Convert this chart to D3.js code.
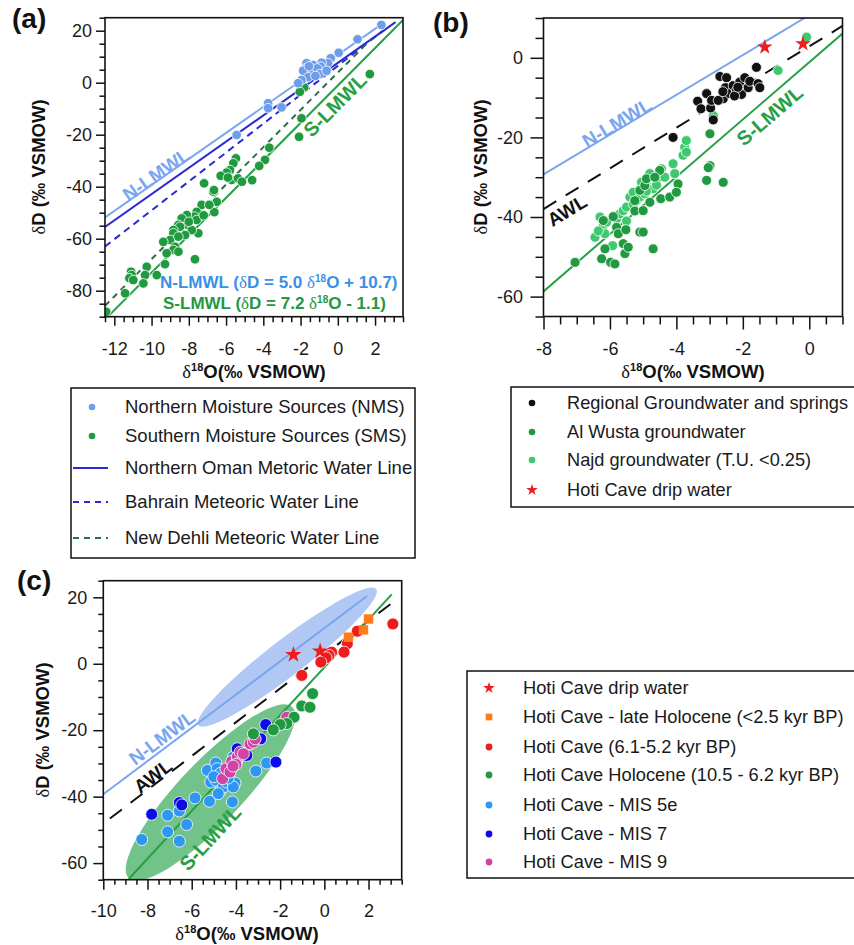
<!DOCTYPE html>
<html>
<head>
<meta charset="utf-8">
<script src="https://cdn.jsdelivr.net/npm/d3@7"></script>
<style>
  body { margin: 0; background: #fff; }
  svg { display: block; font-family: "Liberation Sans", Arial, sans-serif; }
</style>
</head>
<body>
<svg id="fig" width="854" height="945"></svg>
<script>
"use strict";
// ---- panel (a): precipitation ----
const NMS = [[2.34,22.2],[1.06,16.7],[0.05,11.5],[-0.38,9.4],[-0.52,7.5],[-0.87,7.7],[-0.91,6.2],
  [-1.32,6.8],[-1.68,7.5],[-1.73,5.5],[-1.38,4.2],[-1.11,5.5],[-0.97,3.3],[-1.86,4.6],[-1.59,2.1],
  [-1.95,1.0],[-2.13,-0.2],[-3.02,-9.5],[-3.74,-7.9],[-3.74,-9.8],[-5.43,-20.1],[-1.2,2.6],
  [-0.6,4.6],[-1.55,6.3]];
const SMS = [[1.72,3.3],[-1.81,-1.8],[-2.04,-3.5],[-1.95,-13.7],[-2.08,-20.8],[-3.68,-25],[-3.91,-29.7],
  [-4.22,-32],[-5.47,-29.1],[-5.61,-31],[-5.79,-33.6],[-5.97,-34.6],[-6.29,-35.8],[-5.7,-37.4],
  [-5.36,-36.8],[-5.15,-38.1],[-6.69,-41.9],[-6.5,-45.8],[-7.31,-47],[-6.63,-49.8],[-7.58,-49.7],
  [-7.7,-51.5],[-8.11,-50.9],[-8.38,-52.2],[-8.56,-54.7],[-8.06,-54.7],[-7.58,-52.8],[-7.49,-57.9],
  [-7.84,-56.7],[-8.2,-58.6],[-8.47,-55.4],[-8.83,-56.7],[-8.83,-57.9],[-9.0,-60.5],[-8.74,-63.1],
  [-8.56,-59.2],[-9.37,-61.2],[-8.83,-64.3],[-8.56,-65],[-9.19,-65.6],[-7.67,-67.9],[-9.28,-69.8],
  [-10.26,-70.8],[-10.35,-74],[-9.72,-74],[-11.1,-72.7],[-11.07,-74],[-11.19,-75.2],[-10.98,-75.9],
  [-10.44,-77.2],[-11.42,-81],[-12.44,-88.1],[-7.18,-38.7],[-6.65,-41.3],[-5.9,-36.5],[-4.6,-37.5],
  [-8.0,-53.5],[-7.2,-51],[-6.9,-47]];
const A_N_LMWL = [[-12.5,-51.8],[2.5,23.2]];
const A_OMAN = [[-12.5,-55.5],[3.1,23.3]];
const A_BAHRAIN = [[-12.5,-63],[2.7,21.5]];
const A_DELHI = [[-12.5,-85.8],[1.8,16.8]];
const A_S_LMWL = [[-12.35,-90],[3.5,24.1]];
const A_X_TICKS = [-12,-10,-8,-6,-4,-2,0,2];
const A_Y_TICKS = [20,0,-20,-40,-60,-80];
const A_LEGEND = ["Northern Moisture Sources (NMS)", "Southern Moisture Sources (SMS)",
  "Northern Oman Metoric Water Line", "Bahrain Meteoric Water Line", "New Dehli Meteoric Water Line"];

// ---- panel (b): groundwater ----
const REGIONAL_GW = [[-4.1,-20],[-3.36,-10.9],[-3.26,-12.8],[-3.09,-9.0],[-2.89,-15.6],[-2.97,-12.6],
  [-2.94,-10.7],[-2.69,-4.7],[-2.49,-5.0],[-2.59,-10.3],[-2.52,-7.5],[-2.39,-9.0],[-2.29,-7.0],
  [-2.19,-8.2],[-2.09,-6.1],[-2.04,-9.2],[-1.94,-5.0],[-1.84,-7.5],[-1.79,-5.9],[-1.59,-2.4],
  [-1.54,-6.5],[-1.49,-7.5],[-2.25,-9.6],[-2.74,-10.7],[-2.6,-8.5],[-2.15,-7.4]];
const AL_WUSTA = [[-7.05,-51.4],[-6.25,-50.5],[-5.98,-51.4],[-5.85,-51.8],[-6.2,-40.9],[-6.15,-48],
  [-5.9,-39.9],[-5.8,-42.6],[-5.75,-44.2],[-5.6,-46.7],[-5.55,-49.2],[-5.52,-43.2],[-5.45,-47.6],
  [-5.1,-43.8],[-5.0,-43.8],[-4.7,-48],[-4.8,-36.3],[-4.5,-28.3],[-4.47,-35.4],[-4.2,-35],
  [-3.95,-31.7],[-4.0,-33.8],[-5.25,-35.9],[-5.1,-33.3],[-4.95,-32.1],[-4.9,-30.4],[-5.25,-38.5],
  [-5.0,-38.4],[-3.09,-30.8],[-2.99,-27.1],[-3.04,-27.6],[-2.99,-19.1],[-2.59,-31.3],[-4.65,-30]];
const NAJD = [[-6.45,-45.1],[-6.3,-40],[-6.22,-42.6],[-6.1,-41.3],[-5.92,-47.2],[-5.8,-40.5],
  [-5.7,-39.2],[-5.6,-38.4],[-5.5,-37.5],[-5.4,-35],[-5.3,-33.8],[-5.2,-35.9],[-5.1,-35],
  [-5.05,-31.3],[-4.95,-34.2],[-4.85,-32.5],[-4.8,-29.1],[-4.7,-32.9],[-4.55,-30],[-4.45,-27.9],
  [-4.35,-30],[-4.1,-26.6],[-4.05,-29.1],[-3.8,-24.5],[-3.75,-22.5],[-3.7,-20.8],[-3.7,-23.7],
  [-2.89,-14.5],[-0.94,-3.2],[-0.08,5.2],[-6.15,-44.2],[-4.6,-32],[-5.5,-41],[-6.35,-43.5],
  [-5.3,-36.8],[-4.9,-33.5]];
const B_DRIP = [[-1.34,2.7],[-0.19,3.5]];
const B_N_LMWL = [[-8,-29.3],[-0.14,10]];
const B_AWL = [[-8,-38],[1,8]];
const B_S_LMWL = [[-8,-58.7],[1,6.1]];
const B_X_TICKS = [-8,-6,-4,-2,0];
const B_Y_TICKS = [0,-20,-40,-60];
const B_LEGEND = ["Regional Groundwater and springs", "Al Wusta groundwater",
  "Najd groundwater (T.U. <0.25)", "Hoti Cave drip water"];

// ---- panel (c): speleothem fluid inclusions ----
const C_DRIP = [[-1.4,2.7],[-0.19,3.8]];
const LATE_HOLO = [[2.0,13.5],[1.77,10.2],[1.09,8.0]];
const MID_HOLO = [[3.1,12.0],[1.49,9.8],[1.04,6.0],[0.89,3.5],[0.33,3.5],[0.21,2.5],[0.08,1.8],
  [-0.16,0.5],[-1.02,-3.5]];
const EARLY_HOLO = [[-0.53,-9.0],[-1.02,-12.7],[-0.65,-13.1],[-1.37,-16.1],[-1.7,-18.0],[-2.0,-18.3],
  [-2.31,-19.9],[-3.21,-21.1]];
const MIS5E = [[-8.26,-52.9],[-7.09,-45.6],[-7.09,-50.6],[-6.56,-44.3],[-6.56,-53.4],[-6.23,-48.4],
  [-5.85,-40.4],[-5.2,-41.4],[-5.29,-32.1],[-4.91,-29.9],[-5.14,-35.6],[-4.9,-35.1],[-4.69,-38.1],
  [-4.57,-37.1],[-4.42,-35.6],[-4.16,-41.6],[-4.04,-35.9],[-4.12,-37.1],[-4.12,-28.1],[-4.27,-32.1],
  [-3.95,-29],[-3.81,-27.1],[-3.6,-27],[-3.1,-32.3],[-2.61,-29.9],[-4.85,-31.6],[-4.7,-33],
  [-5.0,-34],[-4.35,-34.4],[-4.8,-39.1]];
const MIS7 = [[-7.81,-45.3],[-6.56,-41.8],[-6.45,-42.5],[-3.94,-25.6],[-2.65,-18.3],[-2.88,-22.6],
  [-2.19,-29.6],[-3.51,-27.6]];
const MIS9 = [[-4.6,-34.6],[-4.45,-31.6],[-4.19,-29.4],[-4.0,-30],[-3.94,-28.1],[-3.81,-26.6],
  [-3.66,-27.1],[-4.0,-30.3],[-4.27,-32.6],[-3.36,-24.1],[-3.21,-23.6],[-3.13,-22.6],[-1.7,-16.1],
  [-4.13,-30.8]];
const C_N_LMWL = [[-10,-39.3],[1.92,20.3]];
const C_AWL = [[-9.7,-46.6],[3.1,18.5]];
const C_S_LMWL = [[-8.85,-64.8],[3.05,20.9]];
const C_N_FIELD = [[-5.7,-18.5],[2.35,22.5]];   // ellipse tips
const C_S_FIELD = [[-8.85,-64.5],[-1.45,-13]];
const C_X_TICKS = [-10,-8,-6,-4,-2,0,2];
const C_Y_TICKS = [20,0,-20,-40,-60];
const C_LEGEND = ["Hoti Cave drip water", "Hoti Cave - late Holocene (<2.5 kyr BP)",
  "Hoti Cave (6.1-5.2 kyr BP)", "Hoti Cave Holocene (10.5 - 6.2 kyr BP)",
  "Hoti Cave - MIS 5e", "Hoti Cave - MIS 7", "Hoti Cave - MIS 9"];

(function() {
  const SERIF = "'Liberation Serif', 'DejaVu Serif', serif";
  const COL = {
    nms: "#6d9eeb", sms: "#1f9a3f", oman: "#2a2ad2", delhi: "#2f6f46", nl: "#7aa5f0", sl: "#25a044",
    eqN: "#3b8fe6", eqS: "#23983f", reg: "#111", wusta: "#1f9a40", najd: "#3ec96e", star: "#ee1c1c",
    late: "#ff7b1c", mid: "#ee1c1c", holo: "#1f9a40", mis5: "#2f96f2", mis7: "#0c0ce6", mis9: "#d044a6"
  };
  const svg = d3.select("#fig");

  function makePanel(o) {
    const x = d3.scaleLinear().domain(o.xDomain).range([o.left, o.left + o.w]);
    const y = d3.scaleLinear().domain(o.yDomain).range([o.top + o.h, o.top]);
    const g = svg.append("g");
    svg.append("clipPath").attr("id", "clip-" + o.id).append("rect")
      .attr("x", o.left).attr("y", o.top).attr("width", o.w).attr("height", o.h);
    const xMinor = d3.range(o.xDomain[0], o.xDomain[1] + 0.01, 0.5).filter(v => !o.xTicks.includes(v));
    const yMinor = d3.range(Math.ceil(o.yDomain[0] / 5) * 5, o.yDomain[1] + 0.01, 5).filter(v => !o.yTicks.includes(v));
    const bottom = o.top + o.h;
    g.append("g").attr("transform", `translate(0,${bottom})`)
      .call(d3.axisBottom(x).tickValues(xMinor).tickSize(o.minor).tickFormat(""));
    g.append("g").attr("transform", `translate(0,${bottom})`)
      .call(d3.axisBottom(x).tickValues(o.xTicks).tickSize(o.major).tickPadding(o.xPad).tickFormat(d => String(d)));
    g.append("g").attr("transform", `translate(${o.left},0)`)
      .call(d3.axisLeft(y).tickValues(yMinor).tickSize(o.minor).tickFormat(""));
    g.append("g").attr("transform", `translate(${o.left},0)`)
      .call(d3.axisLeft(y).tickValues(o.yTicks).tickSize(o.major).tickPadding(o.yPad).tickFormat(d => String(d)));
    g.selectAll(".domain").remove();
    g.selectAll(".tick line").attr("stroke", "#111").attr("stroke-width", 1.5);
    g.selectAll(".tick text").attr("font-size", 18).attr("font-family", null).attr("fill", "#1a1a1a");
    const plot = g.append("g").attr("clip-path", `url(#clip-${o.id})`);
    const labels = g.append("g");
    g.append("rect").attr("x", o.left).attr("y", o.top).attr("width", o.w).attr("height", o.h)
      .attr("fill", "none").attr("stroke", "#111").attr("stroke-width", 1.6);
    return { x, y, plot, labels };
  }

  function line(p, pts, color, dash, width) {
    p.plot.append("path").datum(pts)
      .attr("d", d3.line().x(d => p.x(d[0])).y(d => p.y(d[1])))
      .attr("fill", "none").attr("stroke", color).attr("stroke-width", width || 2)
      .attr("stroke-dasharray", dash || null);
  }

  function dots(p, data, color, r) {
    p.plot.append("g").selectAll("circle").data(data).enter().append("circle")
      .attr("cx", d => p.x(d[0])).attr("cy", d => p.y(d[1])).attr("r", r)
      .attr("fill", color).attr("stroke", "#fff").attr("stroke-width", 0.8);
  }

  function symbols(p, data, type, size, color) {
    p.plot.append("g").selectAll("path").data(data).enter().append("path")
      .attr("transform", d => `translate(${p.x(d[0])},${p.y(d[1])})`)
      .attr("d", d3.symbol().type(type).size(size)).attr("fill", color);
  }

  function lineLabel(p, ln, at, text, color, weight, size) {
    const [a, b] = ln;
    const ang = Math.atan2(p.y(b[1]) - p.y(a[1]), p.x(b[0]) - p.x(a[0])) * 180 / Math.PI;
    p.labels.append("text")
      .attr("transform", `translate(${p.x(at[0])},${p.y(at[1])}) rotate(${ang})`)
      .attr("text-anchor", "middle").attr("dy", "0.35em")
      .attr("font-size", size).attr("font-weight", weight).attr("fill", color).text(text);
  }

  function ellipse(p, tips, ry, color, opacity) {
    const x1 = p.x(tips[0][0]), y1 = p.y(tips[0][1]), x2 = p.x(tips[1][0]), y2 = p.y(tips[1][1]);
    const ang = Math.atan2(y2 - y1, x2 - x1) * 180 / Math.PI;
    p.plot.append("ellipse")
      .attr("transform", `translate(${(x1 + x2) / 2},${(y1 + y2) / 2}) rotate(${ang})`)
      .attr("rx", Math.hypot(x2 - x1, y2 - y1) / 2).attr("ry", ry)
      .attr("fill", color).attr("fill-opacity", opacity);
  }

  function xTitle(cx, base) {
    const t = svg.append("text").attr("x", cx).attr("y", base).attr("text-anchor", "middle")
      .attr("font-size", 18.5).attr("font-weight", "bold").attr("fill", "#111");
    t.append("tspan").attr("font-family", SERIF).attr("font-weight", "normal").text("δ");
    t.append("tspan").attr("font-size", 11).attr("dy", -7).text("18");
    t.append("tspan").attr("dy", 7).text("O(‰ VSMOW)");
  }

  function yTitle(bx, cy) {
    const t = svg.append("text").attr("transform", `translate(${bx},${cy}) rotate(-90)`)
      .attr("text-anchor", "middle").attr("font-size", 18.5).attr("font-weight", "bold").attr("fill", "#111");
    t.append("tspan").attr("font-family", SERIF).attr("font-weight", "normal").text("δ");
    t.append("tspan").text("D (‰ VSMOW)");
  }

  function panelTag(x, y, s) {
    svg.append("text").attr("x", x).attr("y", y).attr("font-size", 28).attr("font-weight", "bold")
      .attr("fill", "#111").text(s);
  }

  function legend(box, rows, labels, symX, textX, fs, draw) {
    svg.append("rect").attr("x", box[0]).attr("y", box[1]).attr("width", box[2]).attr("height", box[3])
      .attr("fill", "#fff").attr("stroke", "#111").attr("stroke-width", 1.5);
    const g = svg.append("g");
    labels.forEach((lab, i) => {
      draw(g, i, symX, rows[i]);
      g.append("text").attr("x", textX).attr("y", rows[i]).attr("dy", "0.35em")
        .attr("font-size", fs).attr("fill", "#1a1a1a").text(lab);
    });
  }

  // ================= (a) =================
  const pa = makePanel({ id: "a", left: 105, top: 17.7, w: 298, h: 299, xDomain: [-12.5, 3.5], yDomain: [-90, 25],
    xTicks: A_X_TICKS, yTicks: A_Y_TICKS, major: 9, minor: 5.5, xPad: 17, yPad: 4 });
  line(pa, A_N_LMWL, COL.nl);
  line(pa, A_OMAN, COL.oman);
  line(pa, A_BAHRAIN, COL.oman, "7,5");
  line(pa, A_DELHI, COL.delhi, "6,5");
  line(pa, A_S_LMWL, COL.sl);
  dots(pa, SMS, COL.sms, 4.8);
  dots(pa, NMS, COL.nms, 4.8);
  lineLabel(pa, A_N_LMWL, [-9.75, -35.3], "N-LMWL", COL.nl, "bold", 19);
  lineLabel(pa, A_S_LMWL, [-0.15, -8.6], "S-LMWL", COL.sl, "bold", 20);
  [[160, 288, "N-LMWL (", "D = 5.0 ", "O + 10.7)", COL.eqN], [163, 309, "S-LMWL (", "D = 7.2 ", "O - 1.1)", COL.eqS]]
    .forEach(e => {
      const t = pa.labels.append("text").attr("x", e[0]).attr("y", e[1]).attr("font-size", 17)
        .attr("font-weight", "bold").attr("fill", e[5]);
      t.append("tspan").text(e[2]);
      t.append("tspan").attr("font-family", SERIF).attr("font-weight", "normal").text("δ");
      t.append("tspan").text(e[3]);
      t.append("tspan").attr("font-family", SERIF).attr("font-weight", "normal").text("δ");
      t.append("tspan").attr("font-size", 10).attr("dy", -6).text("18");
      t.append("tspan").attr("dy", 6).text(e[4]);
    });
  panelTag(12, 28, "(a)");
  xTitle(254, 378);
  yTitle(45, 167);
  legend([71, 388, 344, 170], [407, 436, 468, 502, 538], A_LEGEND, 92, 125, 18.5, (g, i, sx, cy) => {
    if (i < 2) {
      g.append("circle").attr("cx", sx).attr("cy", cy).attr("r", 3.3).attr("fill", i === 0 ? COL.nms : COL.sms);
    } else {
      g.append("line").attr("x1", 73).attr("x2", 108).attr("y1", cy).attr("y2", cy)
        .attr("stroke", i === 4 ? COL.delhi : COL.oman).attr("stroke-width", 2)
        .attr("stroke-dasharray", i === 2 ? null : "6,5");
    }
  });

  // ================= (b) =================
  const pb = makePanel({ id: "b", left: 543.5, top: 18, w: 299, h: 298.5, xDomain: [-8, 1], yDomain: [-65, 10],
    xTicks: B_X_TICKS, yTicks: B_Y_TICKS, major: 13, minor: 8, xPad: 13, yPad: 7.5 });
  line(pb, B_N_LMWL, COL.nl);
  line(pb, B_AWL, "#111", "15,11");
  line(pb, B_S_LMWL, COL.sl);
  dots(pb, NAJD, COL.najd, 5);
  dots(pb, AL_WUSTA, COL.wusta, 5);
  dots(pb, REGIONAL_GW, COL.reg, 5);
  symbols(pb, B_DRIP, d3.symbolStar, 75, COL.star);
  lineLabel(pb, B_N_LMWL, [-5.79, -16.3], "N-LMWL", COL.nl, "bold", 19);
  lineLabel(pb, B_AWL, [-7.29, -38.4], "AWL", "#111", "bold", 19);
  lineLabel(pb, B_S_LMWL, [-1.19, -14.5], "S-LMWL", COL.sl, "bold", 20);
  panelTag(433, 32, "(b)");
  xTitle(693, 378);
  yTitle(487, 167);
  legend([511, 387, 400, 120], [403, 432, 460, 490], B_LEGEND, 532, 567, 18.2, (g, i, sx, cy) => {
    if (i < 3) {
      g.append("circle").attr("cx", sx).attr("cy", cy).attr("r", 3.3).attr("fill", [COL.reg, COL.wusta, COL.najd][i]);
    } else {
      g.append("path").attr("transform", `translate(${sx},${cy})`)
        .attr("d", d3.symbol().type(d3.symbolStar).size(42)).attr("fill", COL.star);
    }
  });

  // ================= (c) =================
  const pc = makePanel({ id: "c", left: 103.3, top: 580.7, w: 298.4, h: 299, xDomain: [-10, 3.5], yDomain: [-65, 25],
    xTicks: C_X_TICKS, yTicks: C_Y_TICKS, major: 10, minor: 5, xPad: 15, yPad: 6 });
  ellipse(pc, C_N_FIELD, 18, "#9dbaf2", 0.8);
  ellipse(pc, C_S_FIELD, 31, "#4db46b", 0.8);
  line(pc, C_N_LMWL, COL.nl);
  line(pc, C_AWL, "#111", "15,11");
  line(pc, C_S_LMWL, COL.sl);
  dots(pc, MIS5E, COL.mis5, 6);
  dots(pc, MIS7, COL.mis7, 6);
  dots(pc, MIS9, COL.mis9, 6);
  dots(pc, EARLY_HOLO, COL.holo, 6);
  dots(pc, MID_HOLO, COL.mid, 6);
  symbols(pc, LATE_HOLO, d3.symbolSquare, 90, COL.late);
  symbols(pc, C_DRIP, d3.symbolStar, 85, COL.star);
  lineLabel(pc, C_N_LMWL, [-7.34, -22.2], "N-LMWL", COL.nl, "bold", 19);
  lineLabel(pc, C_AWL, [-7.75, -33.8], "AWL", "#111", "bold", 19);
  lineLabel(pc, C_S_LMWL, [-5.16, -52.4], "S-LMWL", COL.sl, "bold", 20);
  panelTag(17, 590, "(c)");
  xTitle(247, 940);
  yTitle(49, 730);
  const cCols = [COL.star, COL.late, COL.mid, COL.holo, COL.mis5, COL.mis7, COL.mis9];
  legend([467, 671, 400, 207], [688, 717, 747, 775, 805, 834, 862], C_LEGEND, 489, 523, 18.3, (g, i, sx, cy) => {
    const type = i === 0 ? d3.symbolStar : i === 1 ? d3.symbolSquare : d3.symbolCircle;
    const size = i === 0 ? 42 : i === 1 ? 45 : 36;
    g.append("path").attr("transform", `translate(${sx},${cy})`)
      .attr("d", d3.symbol().type(type).size(size)).attr("fill", cCols[i]);
  });
}());
</script>
</body>
</html>
